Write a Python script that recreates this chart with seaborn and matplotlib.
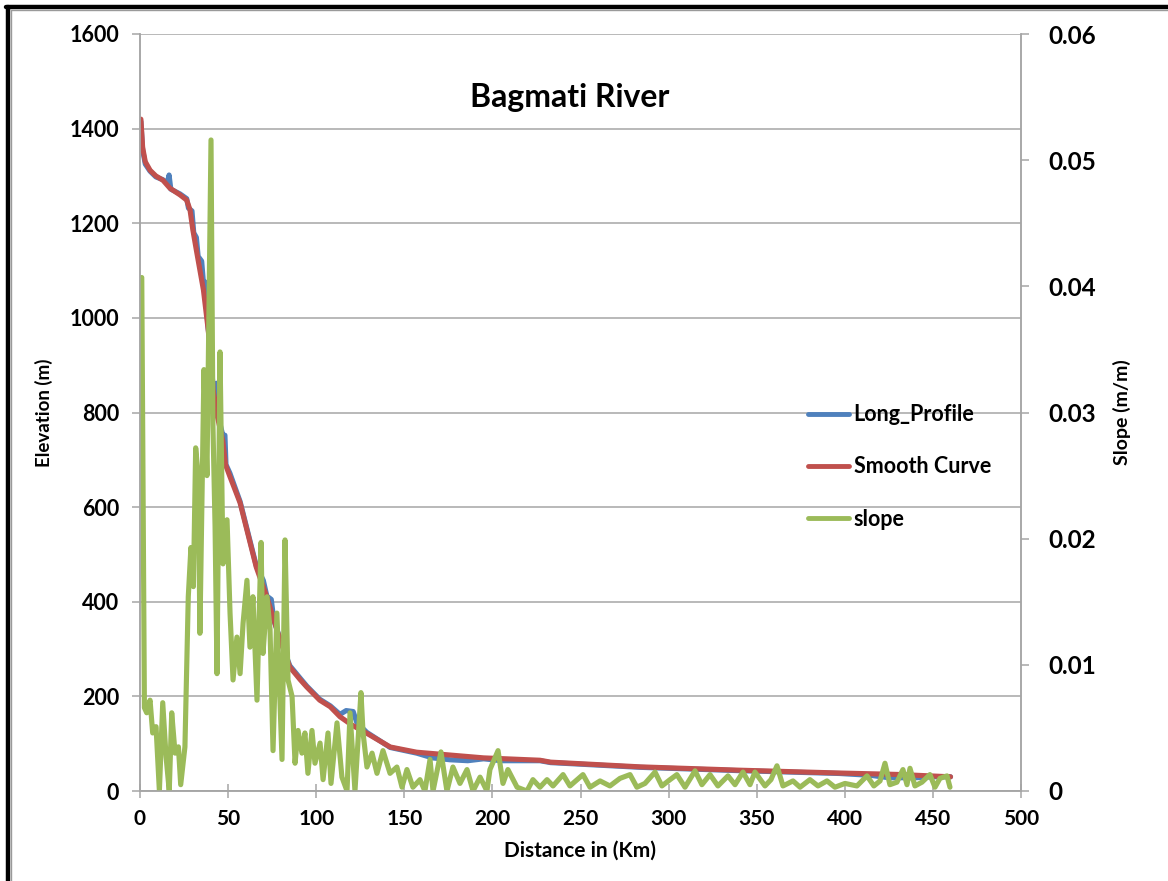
import matplotlib
matplotlib.use("Agg")
import matplotlib.pyplot as plt
from matplotlib.lines import Line2D
import seaborn as sns
import pandas as pd

# ---------------- data ----------------
smooth_km = [0.5, 1.5, 3, 5.7, 9, 13, 17, 22.7, 26.5, 28.4, 30, 32, 34, 36, 38.5, 40,
             41.5, 44, 47, 48.5, 51, 56.8, 66, 72, 79.5, 85, 91, 94.6, 102, 108, 113.5,
             120, 128.7, 142, 157, 176, 195, 227, 233, 284, 340, 397, 430, 460]
smooth_elev = [1420, 1360, 1330, 1312, 1300, 1291, 1274, 1260, 1249, 1228, 1186, 1143, 1101,
               1059, 981, 930, 848, 790, 740, 690, 665, 609, 473, 410, 319, 262, 235, 220,
               192, 178, 157, 140, 122, 93, 82, 76, 70, 65, 61, 51, 44, 38, 35, 30]

long_km = [0.5, 1.5, 3, 5.7, 9, 13, 15.5, 16.5, 17.5, 22.7, 26.5, 27.5, 29.5, 30.5, 32, 33,
           35, 36, 37, 38.5, 40, 41.5, 43.7, 44.5, 47, 48.2, 48.8, 51, 56.8, 66, 70, 72,
           74.5, 76, 79.5, 85, 91, 94.6, 102, 108, 113.5, 117, 121, 123, 128.7, 142, 157,
           166, 176, 186, 195, 205, 227, 233, 284, 340, 397, 415, 425, 440, 450, 460]
long_elev = [1415, 1355, 1325, 1310, 1298, 1292, 1285, 1302, 1272, 1262, 1252, 1232, 1226,
             1180, 1170, 1130, 1120, 1075, 1076, 985, 930, 852, 862, 790, 752, 752, 690, 672,
             612, 476, 445, 412, 405, 360, 322, 265, 238, 222, 194, 180, 162, 170, 168, 145,
             124, 92, 80, 70, 66, 64, 68, 64, 64, 60, 50, 43, 37, 33, 28, 28, 30, 30]

slope_km = [1.0, 2.5, 3.8, 5.7, 7.2, 9.1, 11.0, 12.9, 14.8, 16.6, 18.0, 19.9, 21.8, 23.1,
            25.5, 27.4, 28.9, 30.3, 31.6, 33.1, 34.0, 35.6, 36.3, 38.0, 39.2, 40.3, 41.4,
            42.6, 43.7, 45.4, 47.1, 49.4, 51.1, 52.8, 55.0, 56.8, 58.5, 60.7, 62.4, 64.1,
            66.4, 68.7, 69.8, 72.1, 73.8, 75.5, 77.7, 80.6, 82.3, 84.0, 86.3, 88.0, 89.7,
            91.9, 93.6, 95.3, 97.6, 99.3, 102.2, 103.9, 106.7, 108.4, 111.8, 114.6, 117.5,
            119.2, 122.0, 125.4, 126.6, 128.8, 131.7, 134.5, 137.9, 141.9, 145.8, 148.7,
            151.5, 154.9, 158.9, 161.7, 164.6, 166.3, 170.8, 174.2, 177.6, 181.6, 185.6,
            189.0, 193.0, 196.9, 198.6, 203.2, 206.0, 208.8, 214.0, 219.6, 223.0, 227.0,
            231.0, 234.4, 240.1, 244.0, 251.4, 255.4, 261.1, 266.7, 272.4, 278.1, 282.0,
            286.6, 292.3, 296.2, 300.8, 304.7, 309.3, 315.0, 318.9, 323.5, 328.0, 333.7,
            337.7, 342.2, 346.2, 349.0, 354.7, 358.1, 361.5, 364.9, 370.6, 374.6, 380.2,
            384.8, 389.9, 394.4, 400.1, 406.9, 412.6, 416.5, 420.0, 422.8, 425.6, 429.6,
            433.0, 435.3, 437.0, 439.8, 443.8, 448.3, 451.2, 454.0, 458.0, 459.7]
slope_val = [0.0407, 0.0066, 0.0062, 0.0072, 0.0046, 0.0051, 0.0, 0.0070, 0.0027, 0.0,
             0.0062, 0.0030, 0.0035, 0.0005, 0.0035, 0.0154, 0.0193, 0.0162, 0.0272, 0.0249,
             0.0125, 0.0273, 0.0334, 0.0250, 0.0390, 0.0516, 0.0290, 0.0210, 0.0093, 0.0348,
             0.0180, 0.0215, 0.0141, 0.0088, 0.0122, 0.0093, 0.0133, 0.0167, 0.0114, 0.0154,
             0.0072, 0.0197, 0.0109, 0.0154, 0.0128, 0.0032, 0.0141, 0.0025, 0.0199, 0.0088,
             0.0075, 0.0022, 0.0048, 0.0030, 0.0046, 0.0014, 0.0048, 0.0022, 0.0038, 0.0009,
             0.0046, 0.0006, 0.0054, 0.0011, 0.0, 0.0062, 0.0, 0.0078, 0.0046, 0.0019,
             0.0030, 0.0014, 0.0032, 0.0014, 0.0019, 0.0003, 0.0017, 0.0003, 0.0009, 0.0,
             0.0025, 0.0, 0.0031, 0.0, 0.0019, 0.0006, 0.0017, 0.0, 0.0011, 0.0, 0.0017,
             0.0032, 0.0006, 0.0017, 0.0003, 0.0, 0.0009, 0.0003, 0.0009, 0.0004, 0.0013,
             0.0004, 0.0013, 0.0003, 0.0008, 0.0004, 0.0010, 0.0013, 0.0003, 0.0006, 0.0015,
             0.0004, 0.0009, 0.0013, 0.0003, 0.0016, 0.0005, 0.0013, 0.0004, 0.0012, 0.0005,
             0.0015, 0.0005, 0.0015, 0.0004, 0.0009, 0.0020, 0.0004, 0.0008, 0.0003, 0.0009,
             0.0004, 0.0008, 0.0003, 0.0006, 0.0004, 0.0012, 0.0004, 0.0008, 0.0022, 0.0005,
             0.0007, 0.0017, 0.0005, 0.0018, 0.0004, 0.0007, 0.0013, 0.0003, 0.0010, 0.0012,
             0.0003]

x_ticks = [0, 50, 100, 150, 200, 250, 300, 350, 400, 450, 500]
elev_ticks = [0, 200, 400, 600, 800, 1000, 1200, 1400, 1600]
slope_ticks = [0, 0.01, 0.02, 0.03, 0.04, 0.05, 0.06]
slope_labels = ["0", "0.01", "0.02", "0.03", "0.04", "0.05", "0.06"]

title = "Bagmati River"
x_label = "Distance in (Km)"
y_label = "Elevation (m)"
y2_label = "Slope (m/m)"
names = ["Long_Profile", "Smooth Curve", "slope"]

# ---------------- style ----------------
sns.set_style("white")
plt.rcParams["font.family"] = ["Lato", "DejaVu Sans"]
plt.rcParams["text.color"] = "black"
plt.rcParams["axes.labelcolor"] = "black"
plt.rcParams["xtick.labelcolor"] = "black"
plt.rcParams["ytick.labelcolor"] = "black"

BLUE = "#4F81BD"
RED = "#C0504D"
GREEN = "#9BBB59"
GRID = "#A6A6A6"

W, H = 1168, 881
fig = plt.figure(figsize=(W / 100, H / 100), dpi=100)
ax = fig.add_axes([140 / W, 1 - 791 / H, (1021 - 140) / W, (791 - 34) / H])

df_long = pd.DataFrame({"km": long_km, "elev": long_elev})
df_smooth = pd.DataFrame({"km": smooth_km, "elev": smooth_elev})
df_slope = pd.DataFrame({"km": slope_km, "slope": slope_val})

LW = 3.7
sns.lineplot(data=df_long, x="km", y="elev", ax=ax, color=BLUE, linewidth=LW,
             sort=False, estimator=None, label=names[0], legend=False,
             solid_capstyle="round", solid_joinstyle="round")
sns.lineplot(data=df_smooth, x="km", y="elev", ax=ax, color=RED, linewidth=LW,
             sort=False, estimator=None, label=names[1], legend=False,
             solid_capstyle="round", solid_joinstyle="round")

ax2 = ax.twinx()
sns.lineplot(data=df_slope, x="km", y="slope", ax=ax2, color=GREEN, linewidth=LW,
             sort=False, estimator=None, label=names[2], legend=False,
             solid_capstyle="round", solid_joinstyle="round")

ax.set_xlim(0, 500)
ax.set_ylim(0, 1600)
ax2.set_ylim(0, 0.06)
ax.set_xticks(x_ticks)
ax.set_yticks(elev_ticks)
ax2.set_yticks(slope_ticks)
ax2.set_yticklabels(slope_labels)

ax.yaxis.grid(True, color=GRID, linewidth=1.1)
ax.xaxis.grid(False)
ax.set_axisbelow(True)

for a in (ax, ax2):
    for s in a.spines.values():
        s.set_color(GRID)
        s.set_linewidth(1.1)
    a.spines["top"].set_visible(False)

ax.tick_params(axis="y", direction="out", length=6, width=1.1, color=GRID, pad=9,
               labelsize=15.5, left=True, labelcolor="black")
ax.tick_params(axis="x", direction="inout", length=10, width=1.1, color=GRID, pad=8,
               labelsize=15, bottom=True, labelcolor="black")
ax2.tick_params(axis="y", direction="out", length=6, width=1.1, color=GRID, pad=14,
                labelsize=17.5, right=True, labelcolor="black")
for lab in ax.get_xticklabels() + ax.get_yticklabels() + ax2.get_yticklabels():
    lab.set_fontweight("bold")

ax.set_xlabel(x_label, fontsize=15, fontweight="bold", labelpad=8, color="black")
ax.set_ylabel(y_label, fontsize=13.5, fontweight="bold", labelpad=12, color="black")
ax2.set_ylabel(y2_label, fontsize=14, fontweight="bold", labelpad=12, color="black")

ax.text((570 - 140) / 881, (791 - 97) / 757, title, transform=ax.transAxes,
        ha="center", va="center", fontsize=23, fontweight="bold", color="black")

handles = [Line2D([], [], color=BLUE, linewidth=3.5),
           Line2D([], [], color=RED, linewidth=3.5),
           Line2D([], [], color=GREEN, linewidth=3.5)]
leg = ax2.legend(handles, names, loc="center left",
                 bbox_to_anchor=(789 / W, 1 - 467 / H), bbox_transform=fig.transFigure,
                 frameon=False, handlelength=1.9, handletextpad=0.2, labelspacing=1.45,
                 prop={"size": 15.5, "weight": "bold"})
for t in leg.get_texts():
    t.set_color("black")

# outer chart frame (Excel style)
fig.add_artist(Line2D([8 / W, 8 / W], [0, 1 - 7 / H], color="black", linewidth=3.2,
                      transform=fig.transFigure))
fig.add_artist(Line2D([6.4 / W, 1], [1 - 7 / H, 1 - 7 / H], color="black", linewidth=3.2,
                      transform=fig.transFigure))
fig.add_artist(Line2D([11 / W, 11 / W], [0, 1 - 10 / H], color="#9a9a9a", linewidth=1.0,
                      transform=fig.transFigure))
fig.add_artist(Line2D([11 / W, 1], [1 - 10 / H, 1 - 10 / H], color="#9a9a9a", linewidth=1.0,
                      transform=fig.transFigure))

fig.savefig("out.png", dpi=100)
